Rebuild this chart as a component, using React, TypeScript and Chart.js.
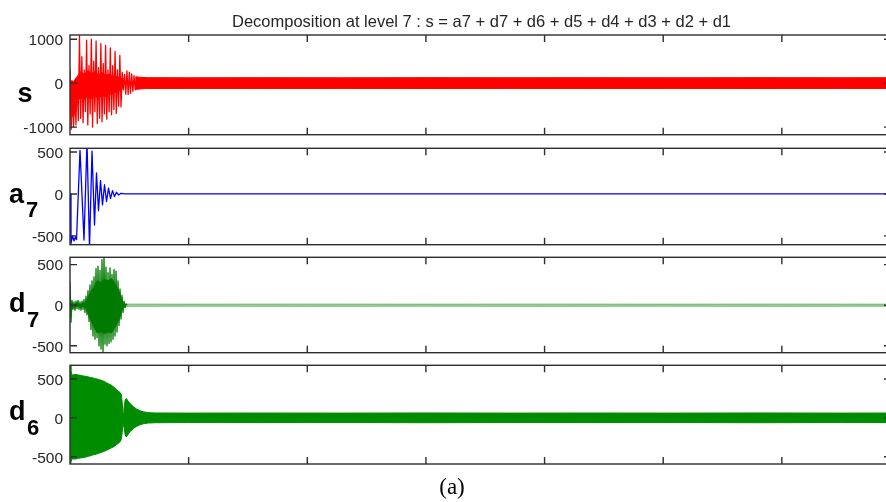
import { useEffect, useRef } from "react";
import { Chart, registerables } from "chart.js";

Chart.register(...registerables);

// ---------------- data ----------------
const TITLE = "Decomposition at level 7 : s = a7 + d7 + d6 + d5 + d4 + d3 + d2 + d1";
const CAPTION = "(a)";
const X_MIN = 0;
const X_MAX = 6.92;
const X_TICKS = [1, 2, 3, 4, 5, 6];

// s (original signal)
const S_YTICKS = [-1000, 0, 1000];
const S_BURST_T0 = 0;
const S_BURST_DT = 0.01;
const S_BURST = [
  300, -1050, -250, -1000, 50, -950, 100, -850, 1080, -800,
  600, -900, 300, -650, 980, -950, 400, -700, 1000, -1000,
  500, -650, 960, -920, 350, -800, 900, -880, 450, -700,
  860, -820, 300, -650, 800, -720, 400, -600, 720, -690,
  300, -520, 630, -540, 250, -150, 200, -250, 280, -260,
  250, -230, 210, -190, 170, -150, 140, -130, 125, -120, 115,
];
const S_CORE_X = [0.0, 0.03, 0.06, 0.09, 0.12, 0.15, 0.18, 0.21, 0.24, 0.27, 0.3, 0.33, 0.36, 0.39, 0.42, 0.45];
const S_CORE_UP = [60, 40, 150, 260, 200, 280, 220, 260, 190, 240, 180, 200, 150, 160, 110, 100];
const S_CORE_LO = [-650, -780, -420, -330, -380, -300, -360, -300, -340, -280, -300, -250, -240, -200, -160, -100];
const S_ENV_X = [0.55, 0.65, 1.0, 1.6, 2.3, 3.0, 3.7, 4.4, 5.1, 5.8, 6.5, 6.92];
const S_ENV_UP = [140, 125, 122, 124, 122, 125, 123, 124, 122, 125, 123, 124];
const S_ENV_LO = [-140, -122, -120, -121, -120, -122, -120, -121, -120, -122, -120, -121];

// a7 (approximation)
const A7_YTICKS = [-500, 0, 500];
const A7_X = [
  0, 0.0084, 0.0211, 0.0337, 0.0464, 0.0548, 0.0843, 0.118, 0.1433, 0.1644,
  0.1855, 0.2066, 0.2234, 0.2403, 0.2572, 0.274, 0.2909, 0.3078, 0.3246, 0.3415,
  0.3583, 0.3752, 0.3921, 0.4089, 0.43, 0.4637, 6.92,
];
const A7_Y = [
  0, -590, -500, -560, -510, -545, 520, -550, 620, -640,
  510, -370, 250, -200, 160, -130, 110, -90, 70, -55,
  40, -30, 20, -12, 8, 0, 0,
];

// d7 (detail level 7)
const D7_YTICKS = [-500, 0, 500];
const D7_BURST_T0 = 0;
const D7_BURST_DT = 0.00843;
const D7_BURST = [
  290, -210, 60, -50, 40, -60, 50, -40, 60, -50,
  40, -60, 50, -50, 70, -90, 110, -120, 180, -200,
  250, -300, 300, -380, 350, -420, 450, -400, 480, -500,
  430, -540, 560, -580, 600, -480, 470, -500, 400, -470,
  460, -450, 380, -420, 440, -380, 420, -330, 300, -250,
  200, -170, 120, -90, 50, -30, 15, 0,
];
const D7_CORE_X = [0.14, 0.17, 0.2, 0.23, 0.26, 0.29, 0.32, 0.35, 0.38, 0.41, 0.43, 0.445];
const D7_CORE_UP = [60, 150, 220, 300, 280, 320, 300, 330, 260, 180, 100, 30];
const D7_CORE_LO = [-60, -170, -260, -340, -330, -350, -330, -340, -270, -190, -100, -30];
const D7_ENV_X = [0.45, 1.0, 2.0, 3.0, 4.0, 5.0, 6.0, 6.92];
const D7_ENV_UP = [15, 14, 15, 14, 15, 14, 15, 14];
const D7_ENV_LO = [-15, -14, -15, -14, -15, -14, -15, -14];

// d6 (detail level 6)
const D6_YTICKS = [-500, 0, 500];
const D6_ENV_X = [
  0, 0.008, 0.017, 0.03, 0.05, 0.07, 0.09, 0.11, 0.13, 0.15,
  0.17, 0.19, 0.21, 0.23, 0.25, 0.27, 0.29, 0.31, 0.33, 0.35,
  0.37, 0.39, 0.405, 0.42, 0.432, 0.44, 0.447, 0.455, 0.465, 0.475,
  0.49, 0.51, 0.535, 0.56, 0.59, 0.62, 0.66, 0.72, 1.0, 1.6,
  2.3, 3.0, 3.7, 4.4, 5.1, 5.8, 6.5, 6.92,
];
const D6_ENV_UP = [
  677, 620, 550, 555, 560, 552, 548, 540, 535, 530,
  520, 518, 505, 500, 492, 480, 468, 450, 435, 420,
  395, 370, 345, 330, 300, 200, 60, 120, 230, 250,
  215, 180, 145, 115, 92, 78, 68, 64, 62, 63,
  62, 64, 62, 63, 62, 64, 62, 63,
];
const D6_ENV_LO = [
  -593, -570, -525, -530, -528, -520, -515, -510, -505, -495,
  -488, -478, -470, -462, -450, -440, -430, -415, -400, -385,
  -370, -345, -330, -310, -280, -190, -60, -110, -220, -245,
  -210, -170, -135, -110, -88, -75, -66, -62, -60, -61,
  -60, -62, -60, -61, -60, -62, -60, -61,
];

// ---------------- styling / layout ----------------
const W = 886;
const H = 502;
const CANVAS_W = 900;
const AREA_LEFT = 70;
const AREA_RIGHT = 891;
const FONT_SANS = '"Liberation Sans", Arial, Helvetica, sans-serif';
const FONT_SERIF = '"Liberation Serif", "Times New Roman", serif';
const TEXT_COLOR = "#262626";
const BOX_COLOR = "#2e2e2e";
const TICK_LEN = 7;

const RED = "#ff0000";
const BLUE = "#0000ff";
const D7_GREEN = "#007a00";
const D7_LIGHT = "rgba(0,128,0,0.38)";
const D6_GREEN = "#008c00";

const sampled = (t0: number, dt: number, ys: number[]) =>
  ys.map((y, i) => ({ x: t0 + i * dt, y }));
const paired = (xs: number[], ys: number[]) => xs.map((x, i) => ({ x, y: ys[i] }));

const lineDs = (data: any[], color: string, fill: any = false, width = 1, bg?: string) => ({
  data,
  borderColor: color,
  backgroundColor: bg || color,
  borderWidth: width,
  pointRadius: 0,
  tension: 0,
  fill,
  borderJoinStyle: "round",
});

type Panel = {
  key: string;
  top: number;
  height: number;
  padTop: number;
  padBottom: number;
  yMin: number;
  yMax: number;
  yTicks: number[];
  label: string;
  sub: string | null;
  labelX: number;
  labelBase: number;
  subX: number;
  subBase: number;
  datasets: any[];
  title?: boolean;
  caption?: boolean;
};

const PANELS: Panel[] = [
  {
    key: "s",
    top: 0,
    height: 151,
    padTop: 35,
    padBottom: 12,
    yMin: -1173,
    yMax: 1095,
    yTicks: S_YTICKS,
    label: "s",
    sub: null,
    labelX: 17.5,
    labelBase: 101.5,
    subX: 0,
    subBase: 0,
    title: true,
    datasets: [
      lineDs(paired(S_ENV_X, S_ENV_UP), RED, "+1"),
      lineDs(paired(S_ENV_X, S_ENV_LO), RED),
      lineDs(paired(S_CORE_X, S_CORE_UP), RED, "+1"),
      lineDs(paired(S_CORE_X, S_CORE_LO), RED),
      lineDs(sampled(S_BURST_T0, S_BURST_DT, S_BURST), RED, false, 1.3),
    ],
  },
  {
    key: "a7",
    top: 132,
    height: 129,
    padTop: 12,
    padBottom: 12,
    yMin: -605,
    yMax: 544,
    yTicks: A7_YTICKS,
    label: "a",
    sub: "7",
    labelX: 9,
    labelBase: 203,
    subX: 26,
    subBase: 216.7,
    datasets: [lineDs(paired(A7_X, A7_Y), BLUE, false, 1.3)],
  },
  {
    key: "d7",
    top: 241,
    height: 128,
    padTop: 12,
    padBottom: 12,
    yMin: -585,
    yMax: 590,
    yTicks: D7_YTICKS,
    label: "d",
    sub: "7",
    labelX: 9,
    labelBase: 311.7,
    subX: 27,
    subBase: 327,
    datasets: [
      lineDs(paired(D7_ENV_X, D7_ENV_UP), D7_LIGHT, "+1", 1, D7_LIGHT),
      lineDs(paired(D7_ENV_X, D7_ENV_LO), D7_LIGHT),
      lineDs(paired(D7_CORE_X, D7_CORE_UP), D7_GREEN, "+1"),
      lineDs(paired(D7_CORE_X, D7_CORE_LO), D7_GREEN),
      lineDs(sampled(D7_BURST_T0, D7_BURST_DT, D7_BURST), D7_GREEN, false, 1.3),
    ],
  },
  {
    key: "d6",
    top: 349,
    height: 153,
    padTop: 12,
    padBottom: 38,
    yMin: -593,
    yMax: 677,
    yTicks: D6_YTICKS,
    label: "d",
    sub: "6",
    labelX: 9,
    labelBase: 420,
    subX: 27,
    subBase: 435,
    caption: true,
    datasets: [
      lineDs(paired(D6_ENV_X, D6_ENV_UP), D6_GREEN, "+1"),
      lineDs(paired(D6_ENV_X, D6_ENV_LO), D6_GREEN),
    ],
  },
];

function makeFramePlugin(p: Panel) {
  return {
    id: "frame_" + p.key,
    afterDatasetsDraw(chart: any) {
      const { ctx, chartArea: a, scales } = chart;
      ctx.save();
      ctx.strokeStyle = BOX_COLOR;
      ctx.lineWidth = 1.4;
      ctx.strokeRect(a.left, a.top, a.right - a.left, a.bottom - a.top);
      ctx.beginPath();
      X_TICKS.forEach((v) => {
        const px = scales.x.getPixelForValue(v);
        ctx.moveTo(px, a.top);
        ctx.lineTo(px, a.top + TICK_LEN);
        ctx.moveTo(px, a.bottom);
        ctx.lineTo(px, a.bottom - TICK_LEN);
      });
      p.yTicks.forEach((v) => {
        const py = scales.y.getPixelForValue(v);
        ctx.moveTo(a.left, py);
        ctx.lineTo(a.left + TICK_LEN, py);
        ctx.moveTo(a.right, py);
        ctx.lineTo(a.right - TICK_LEN, py);
      });
      ctx.stroke();
      ctx.restore();
    },
    afterDraw(chart: any) {
      const { ctx } = chart;
      ctx.save();
      ctx.fillStyle = "#000000";
      ctx.textAlign = "left";
      ctx.textBaseline = "alphabetic";
      ctx.font = `bold 27px ${FONT_SANS}`;
      ctx.fillText(p.label, p.labelX, p.labelBase - p.top);
      if (p.sub) {
        ctx.font = `bold 22px ${FONT_SANS}`;
        ctx.fillText(p.sub, p.subX, p.subBase - p.top);
      }
      if (p.title) {
        ctx.fillStyle = TEXT_COLOR;
        ctx.textAlign = "center";
        ctx.font = `16.5px ${FONT_SANS}`;
        ctx.fillText(TITLE, 481.5, 26.5 - p.top);
      }
      if (p.caption) {
        ctx.fillStyle = "#000000";
        ctx.textAlign = "center";
        ctx.font = `23px ${FONT_SERIF}`;
        ctx.fillText(CAPTION, 452, 494 - p.top);
      }
      ctx.restore();
    },
  };
}

function PanelChart({ p }: { p: Panel }) {
  const ref = useRef<HTMLCanvasElement | null>(null);
  useEffect(() => {
    if (!ref.current) return;
    const chart = new Chart(ref.current, {
      type: "line",
      data: { datasets: p.datasets as any },
      options: {
        responsive: false,
        animation: false,
        devicePixelRatio: 1,
        events: [],
        layout: {
          padding: { left: 0, right: CANVAS_W - AREA_RIGHT, top: p.padTop, bottom: p.padBottom },
        },
        plugins: {
          legend: { display: false },
          tooltip: { enabled: false },
          title: { display: false },
        },
        scales: {
          x: { type: "linear", min: X_MIN, max: X_MAX, display: false },
          y: {
            type: "linear",
            min: p.yMin,
            max: p.yMax,
            afterFit: (s: any) => {
              s.width = AREA_LEFT;
            },
            afterBuildTicks: (axis: any) => {
              axis.ticks = p.yTicks.map((v) => ({ value: v }));
            },
            grid: { display: false, drawTicks: false },
            border: { display: false },
            ticks: {
              padding: 7,
              color: TEXT_COLOR,
              autoSkip: false,
              labelOffset: 1.5,
              font: { family: FONT_SANS, size: 15.5 },
              callback: (v: any) => String(v),
            },
          },
        },
      } as any,
      plugins: [makeFramePlugin(p)],
    });
    return () => chart.destroy();
  }, [p]);
  return (
    <canvas
      ref={ref}
      width={CANVAS_W}
      height={p.height}
      style={{ position: "absolute", left: 0, top: p.top, width: CANVAS_W, height: p.height, display: "block" }}
    />
  );
}

export default function App() {
  return (
    <div
      style={{
        position: "fixed",
        left: 0,
        top: 0,
        width: W,
        height: H,
        overflow: "hidden",
        background: "#ffffff",
      }}
    >
      {PANELS.map((p) => (
        <PanelChart key={p.key} p={p} />
      ))}
    </div>
  );
}
